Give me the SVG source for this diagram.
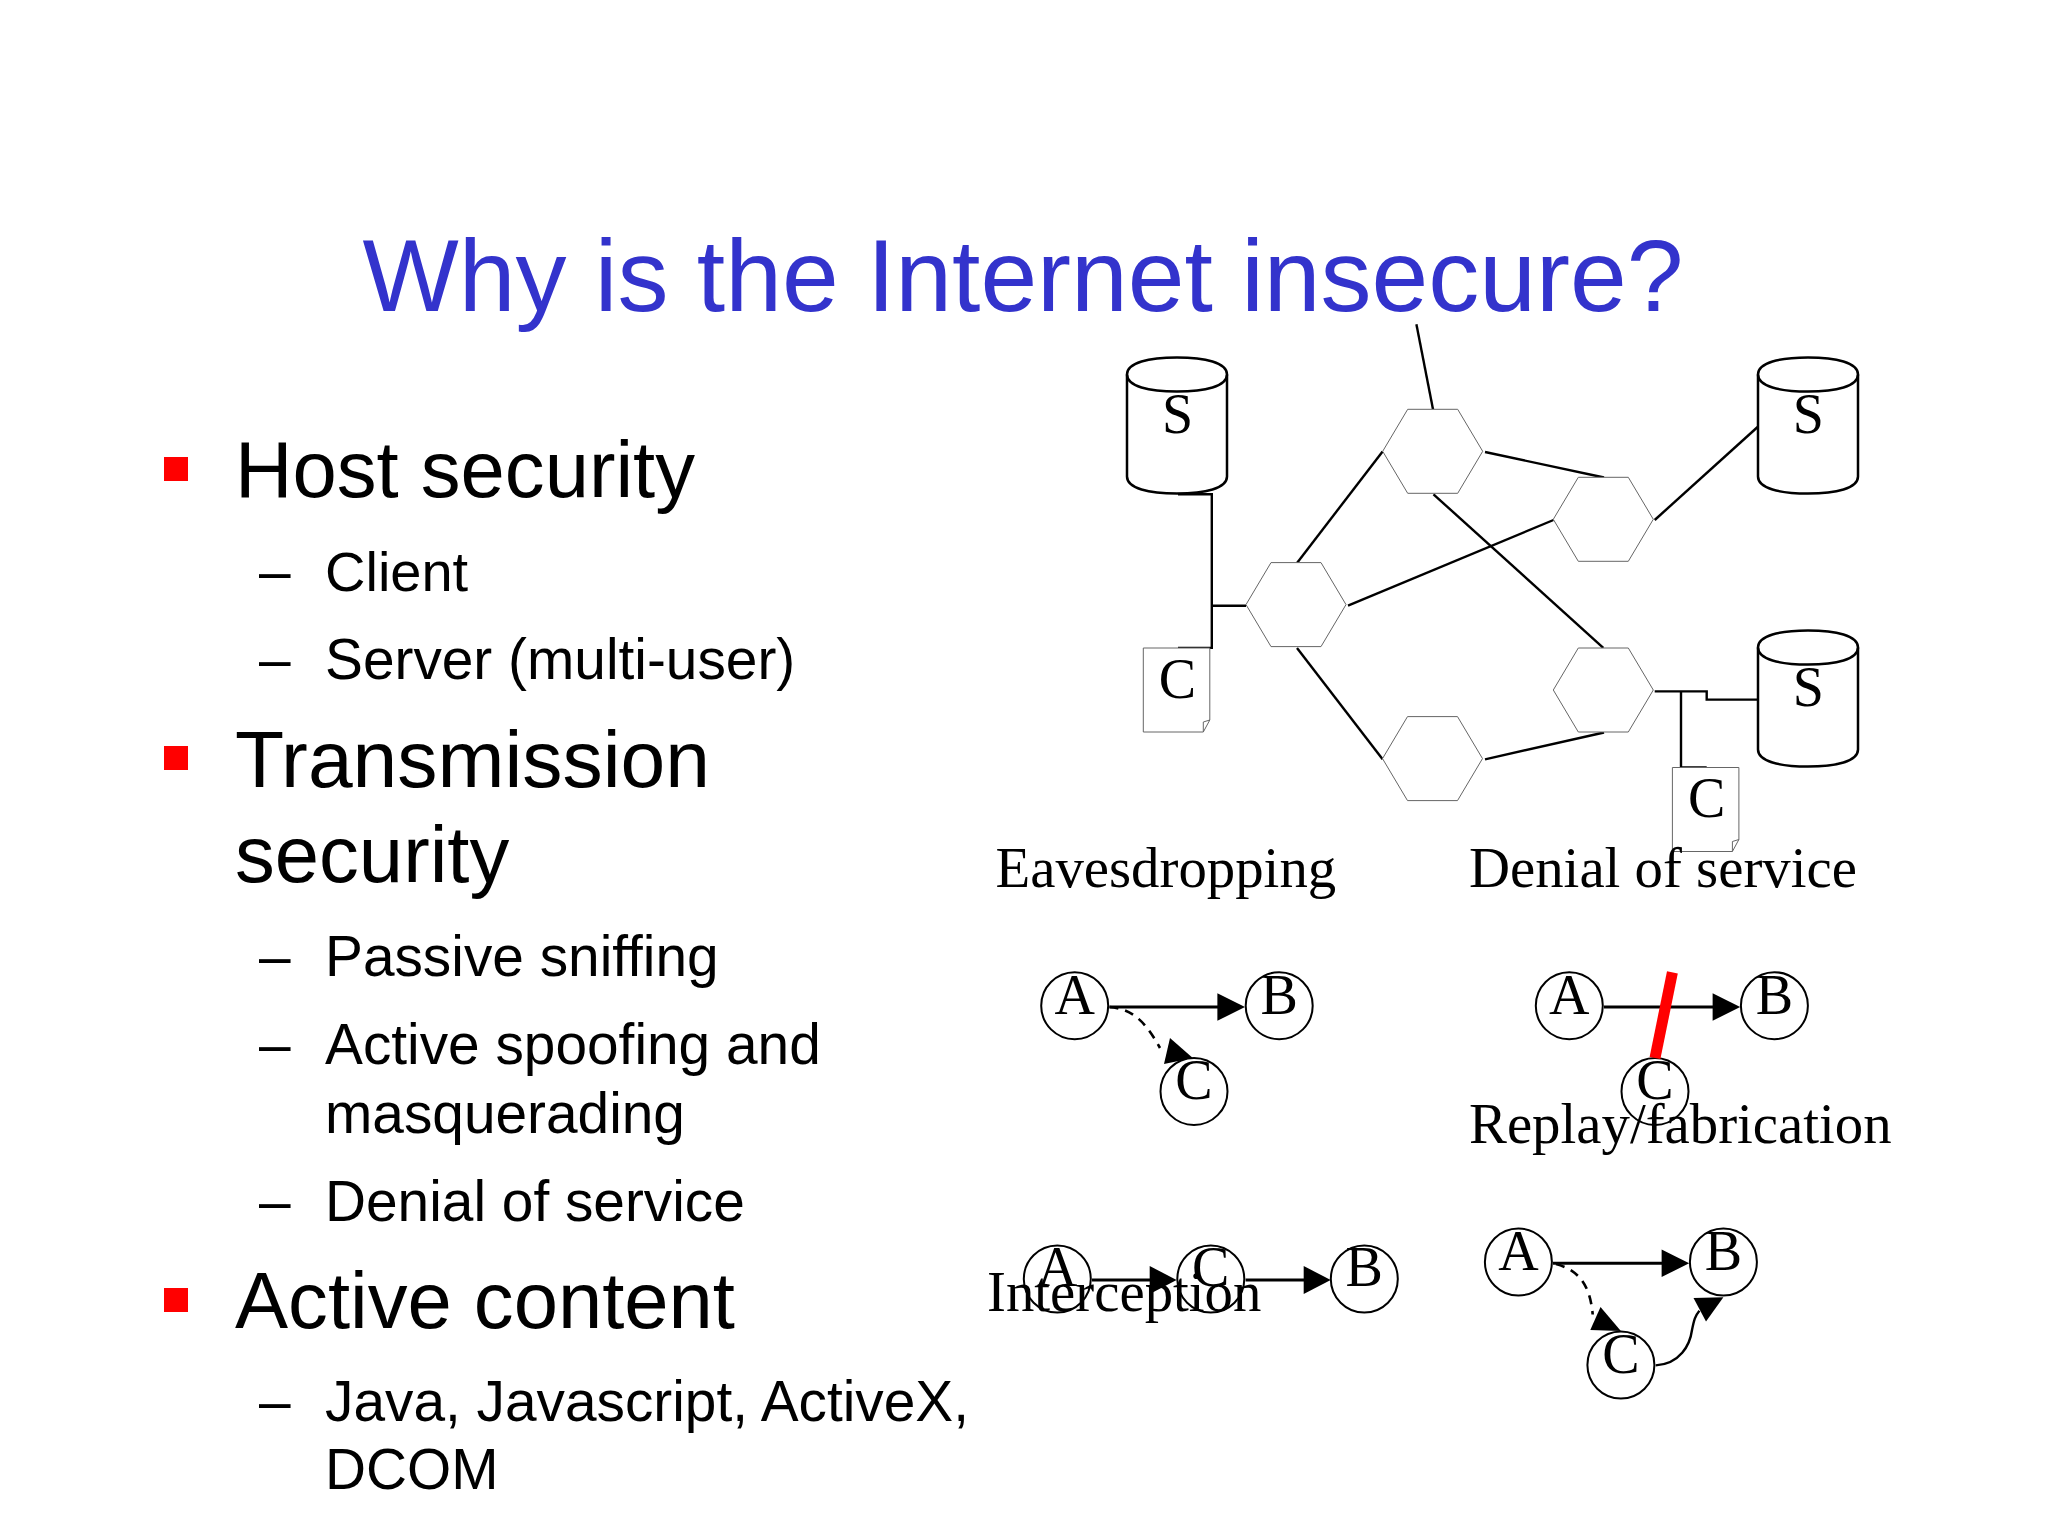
<svg xmlns="http://www.w3.org/2000/svg" width="2048" height="1536" viewBox="0 0 2048 1536">
<style>
.t{font-family:"Liberation Sans",Arial,sans-serif;fill:#000}
.h1{font-size:79.6px}.h2{font-size:56.8px}
.title{font-family:"Liberation Sans",Arial,sans-serif;font-size:102px;fill:#3333cc}
.s{font-family:"Liberation Serif","Times New Roman",serif;font-size:56px;fill:#000}
.lab{font-size:56.8px}
.m{text-anchor:middle}
.hex{fill:#fff;stroke:#666;stroke-width:1}
.cyl{fill:#fff;stroke:#000;stroke-width:2.5}
.doc{fill:#fff;stroke:#666;stroke-width:1}
.circ{fill:none;stroke:#000;stroke-width:2}
.ln{fill:none;stroke:#000;stroke-width:2.4}
.arl{fill:none;stroke:#000;stroke-width:3}
.dash{fill:none;stroke:#000;stroke-width:2.6;stroke-dasharray:9 7}
.ar{fill:#000}
.bul{fill:#ff0000}
</style>
<defs>
<polygon id="hexshape" points="-50,0 -25,-42 25,-42 50,0 25,42 -25,42"/>
<g id="cylshape"><path d="M-50,-119V-17C-50,-5 -28,0 0,0C28,0 50,-5 50,-17V-119C50,-131 28,-136 0,-136C-28,-136 -50,-131 -50,-119Z"/><path d="M-50,-119C-50,-107 -28,-102 0,-102C28,-102 50,-107 50,-119" fill="none"/></g>
<g id="docshape"><path d="M0,0H66.500V72L60,84H0Z"/><path d="M66.500,72L60,74L60,84" fill="none"/></g>
</defs>
<rect width="2048" height="1536" fill="#fff"/>
<text id="title" class="title" x="362.500" y="311">Why is the Internet insecure?</text>

<g id="bullets">
<rect class="bul" x="164" y="457" width="24" height="24"/>
<rect class="bul" x="164" y="746" width="24" height="24"/>
<rect class="bul" x="164" y="1288" width="24" height="24"/>
<text class="t h1" x="235" y="497">Host security</text>
<text class="t h2" x="259" y="590.500">–</text><text class="t" font-size="56" x="325" y="590.500">Client</text>
<text class="t h2" x="259" y="678.500">–</text><text class="t h2" x="325" y="678.500">Server (multi-user)</text>
<text class="t" font-size="80.400" x="235" y="786.500">Transmission</text>
<text class="t h1" x="235" y="882">security</text>
<text class="t h2" x="259" y="976">–</text><text class="t h2" x="325" y="976">Passive sniffing</text>
<text class="t h2" x="259" y="1064">–</text><text class="t h2" x="325" y="1064">Active spoofing and</text>
<text class="t h2" x="325" y="1132.500">masquerading</text>
<text class="t h2" x="259" y="1220.500">–</text><text class="t h2" x="325" y="1220.500">Denial of service</text>
<text class="t h1" x="235" y="1328">Active content</text>
<text class="t h2" x="259" y="1421">–</text><text class="t h2" x="325" y="1421">Java, Javascript, ActiveX,</text>
<text class="t h2" x="325" y="1489">DCOM</text>
</g>

<g id="connectors">
<path class="ln" d="M1416.400,324.300L1433,409.300"/>
<path class="ln" d="M1297,563L1382.600,451.400"/>
<path class="ln" d="M1485,452L1604,477.500"/>
<path class="ln" d="M1348,605.700L1553.500,520"/>
<path class="ln" d="M1654.700,520L1757.600,427"/>
<path class="ln" d="M1433.500,494.300L1603.300,647.900"/>
<path class="ln" d="M1297,647.900L1382.600,759.300"/>
<path class="ln" d="M1485,759.300L1604,732.500"/>
<path class="ln" d="M1178,494.300H1211.800V647.900H1178"/>
<path class="ln" d="M1211.800,605.700H1246"/>
<path class="ln" d="M1654.700,691.400H1706.700V699.600H1757.600"/>
<path class="ln" d="M1681,691.400V767.500H1706.700"/>
</g>

<g id="hex1"><use href="#hexshape" class="hex" x="1432.700" y="451.300"/></g>
<g id="hex2"><use href="#hexshape" class="hex" x="1603.300" y="519.300"/></g>
<g id="hex3"><use href="#hexshape" class="hex" x="1296" y="604.600"/></g>
<g id="hex4"><use href="#hexshape" class="hex" x="1603.300" y="690"/></g>
<g id="hex5"><use href="#hexshape" class="hex" x="1432.500" y="758.600"/></g>

<g id="serverS1"><use href="#cylshape" class="cyl" x="1177" y="493.500"/><text class="s m" x="1177.500" y="433">S</text></g>
<g id="serverS2"><use href="#cylshape" class="cyl" x="1808" y="493.500"/><text class="s m" x="1808.400" y="433">S</text></g>
<g id="serverS3"><use href="#cylshape" class="cyl" x="1808" y="766.500"/><text class="s m" x="1808.400" y="706">S</text></g>
<g id="clientC1"><use href="#docshape" class="doc" x="1143.300" y="648"/><text class="s m" x="1177.500" y="698">C</text></g>
<g id="clientC2"><use href="#docshape" class="doc" x="1672.400" y="767.500"/><text class="s m" x="1706.700" y="816.500">C</text></g>

<g id="labels">
<text class="s lab" x="995.500" y="887">Eavesdropping</text>
<text class="s lab" x="1469" y="887">Denial of service</text>
</g>

<g id="eavesdropping">
<ellipse class="circ" cx="1074.700" cy="1005.700" rx="33.500" ry="33.500"/><text class="s m" x="1074.700" y="1014">A</text>
<ellipse class="circ" cx="1279.200" cy="1005.700" rx="33.500" ry="33.500"/><text class="s m" x="1279.200" y="1014">B</text>
<ellipse class="circ" cx="1194" cy="1091.400" rx="33.500" ry="33.500"/><text class="s m" x="1194" y="1099">C</text>
<path class="arl" d="M1109.500,1007H1218"/><polygon class="ar" points="1245,1007 1217.400,993.200 1217.400,1020.800"/>
<path class="dash" d="M1109.500,1007C1135,1009 1147,1025 1160,1048"/><polygon class="ar" points="1192.800,1058 1170,1038 1164,1064"/>
</g>

<g id="denial">
<ellipse class="circ" cx="1569.300" cy="1005.700" rx="33.500" ry="33.500"/><text class="s m" x="1569.300" y="1014">A</text>
<ellipse class="circ" cx="1774.400" cy="1005.700" rx="33.500" ry="33.500"/><text class="s m" x="1774.400" y="1014">B</text>
<ellipse class="circ" cx="1655" cy="1091.400" rx="33.500" ry="33.500"/><text class="s m" x="1655" y="1099">C</text>
<path class="arl" d="M1604,1007H1713"/><polygon class="ar" points="1740.200,1007 1712.600,993.200 1712.600,1020.800"/>
<path d="M1672.400,972.400L1655,1058" fill="none" stroke="#ff0000" stroke-width="11"/>
</g>
<text id="replay-label" class="s lab" x="1469" y="1143">Replay/fabrication</text>

<g id="interception">
<ellipse class="circ" cx="1057.300" cy="1279" rx="33.500" ry="33.500"/><text class="s m" x="1057.300" y="1286">A</text>
<ellipse class="circ" cx="1210.800" cy="1279" rx="33.500" ry="33.500"/><text class="s m" x="1210.800" y="1286">C</text>
<ellipse class="circ" cx="1364.300" cy="1279" rx="33.500" ry="33.500"/><text class="s m" x="1364.300" y="1286">B</text>
<path class="arl" d="M1092,1280H1150"/><polygon class="ar" points="1176.600,1280 1149.700,1266 1149.700,1294"/>
<path class="arl" d="M1245.600,1280H1304"/><polygon class="ar" points="1330.700,1280 1303.700,1266 1303.700,1294"/>
<text class="s lab" x="987" y="1311">Interception</text>
</g>

<g id="replay">
<ellipse class="circ" cx="1518.400" cy="1262" rx="33.500" ry="33.500"/><text class="s m" x="1518.400" y="1270">A</text>
<ellipse class="circ" cx="1723.400" cy="1262" rx="33.500" ry="33.500"/><text class="s m" x="1723.400" y="1270">B</text>
<ellipse class="circ" cx="1620.900" cy="1365" rx="33.500" ry="33.500"/><text class="s m" x="1620.900" y="1373">C</text>
<path class="arl" d="M1553,1263.300H1662"/><polygon class="ar" points="1689.200,1263.300 1661.600,1249.500 1661.600,1277"/>
<path class="dash" d="M1556,1264C1578,1270 1590,1284 1592.700,1314.500"/><polygon class="ar" points="1620.900,1331 1600.500,1306.900 1590.300,1330"/>
<path class="ln" d="M1655.700,1365.400C1680,1364 1690,1345 1692,1330C1694,1320 1695,1316 1699.400,1310.700"/><polygon class="ar" points="1723.400,1297.300 1693.500,1298 1706,1321.400"/>
</g>
</svg>
